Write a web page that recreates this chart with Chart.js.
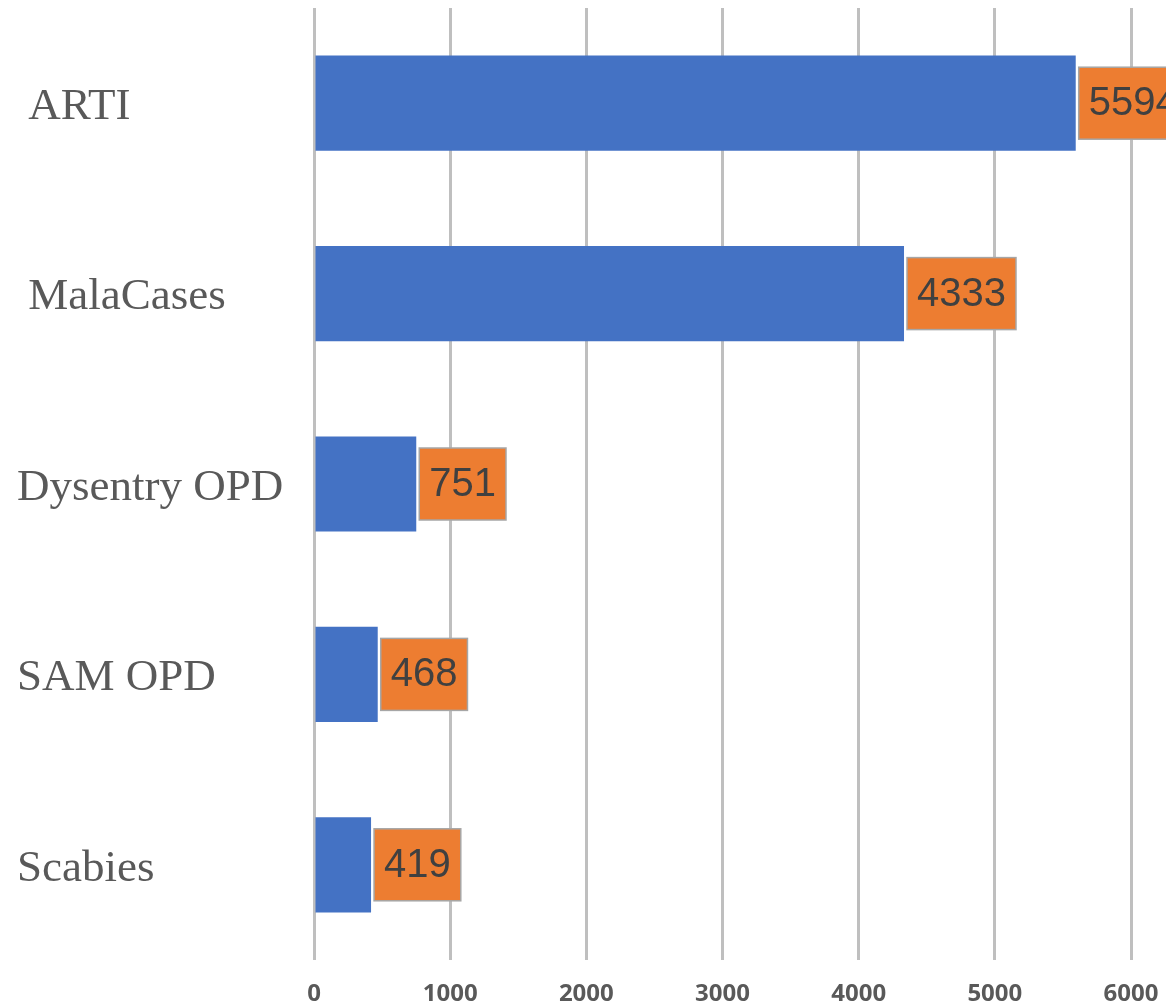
<!DOCTYPE html>
<html>
<head>
<meta charset="utf-8">
<script src="https://cdn.jsdelivr.net/npm/chart.js@4"></script>
<style>
  html, body { margin: 0; padding: 0; background: #fff; }
  #wrap { width: 1166px; height: 1006px; overflow: hidden; }
</style>
</head>
<body>
<div id="wrap"><canvas id="chart" width="1166" height="1006"></canvas></div>
<script>
// Data
const categories = [' ARTI', ' MalaCases', 'Dysentry OPD', 'SAM OPD', 'Scabies'];
const caseCounts = [5594, 4333, 751, 468, 419];
const xTickValues = [0, 1000, 2000, 3000, 4000, 5000, 6000];
const xMax = 6257;

// Value label boxes drawn right after the bar end
const valueBoxes = {
  id: 'valueBoxes',
  afterDatasetsDraw(chart) {
    const ctx = chart.ctx;
    const meta = chart.getDatasetMeta(0);
    ctx.save();
    ctx.font = '40px "Liberation Sans", Arial, sans-serif';
    ctx.textBaseline = 'middle';
    meta.data.forEach((bar, i) => {
      const text = String(caseCounts[i]);
      const w = ctx.measureText(text).width + 20;
      const h = 72;
      const x = bar.x + 3;
      const y = bar.y - h / 2;
      ctx.fillStyle = '#ED7D31';
      ctx.fillRect(x, y, w, h);
      ctx.strokeStyle = '#A6A6A6';
      ctx.lineWidth = 1.5;
      ctx.strokeRect(x, y, w, h);
      ctx.fillStyle = '#404040';
      ctx.fillText(text, x + 10, bar.y + 1);
    });
    ctx.restore();
  }
};

new Chart(document.getElementById('chart'), {
  type: 'bar',
  data: {
    labels: categories,
    datasets: [{
      data: caseCounts,
      backgroundColor: '#4472C4',
      borderWidth: 0,
      barPercentage: 0.5,
      categoryPercentage: 1
    }]
  },
  options: {
    indexAxis: 'y',
    responsive: false,
    devicePixelRatio: 1,
    animation: false,
    layout: { padding: { top: 8, left: 17, right: 0, bottom: 0 } },
    plugins: {
      legend: { display: false },
      tooltip: { enabled: false }
    },
    scales: {
      x: {
        min: 0,
        max: xMax,
        afterBuildTicks: (scale) => {
          scale.ticks = xTickValues.map(v => ({ value: v }));
        },
        afterFit: (scale) => {
          scale.height = 46;
          scale.paddingLeft = 0;
          scale.paddingRight = 0;
        },
        grid: { color: '#BFBFBF', lineWidth: 3, drawTicks: false },
        border: { display: false },
        ticks: {
          padding: 20,
          color: '#595959',
          font: { family: '"Open Sans", sans-serif', size: 24, weight: 'bold' },
          callback: (v) => String(v)
        }
      },
      y: {
        afterFit: (scale) => {
          scale.width = 297;
          scale.paddingTop = 0;
          scale.paddingBottom = 0;
        },
        grid: { display: false, drawTicks: false },
        border: { display: false },
        ticks: {
          crossAlign: 'far',
          labelOffset: 4,
          color: '#595959',
          font: { family: '"Liberation Serif", "Times New Roman", serif', size: 45 }
        }
      }
    }
  },
  plugins: [valueBoxes]
});
</script>
</body>
</html>
